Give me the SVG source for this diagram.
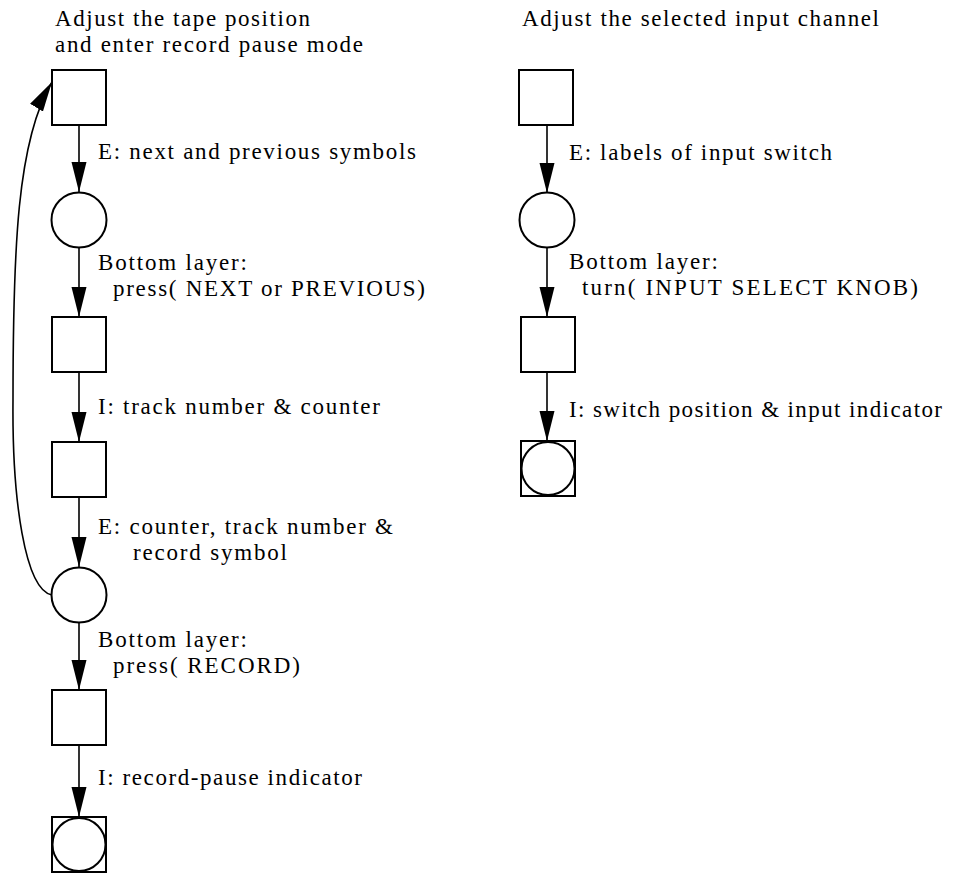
<svg xmlns="http://www.w3.org/2000/svg" width="957" height="874" viewBox="0 0 957 874">
<style>
text{font-family:"Liberation Serif","Times New Roman",serif;font-size:23px;fill:#000}
.n{fill:#fff;stroke:#000;stroke-width:2}
.c{fill:none;stroke:#000;stroke-width:1.6}
</style>
<defs>
<marker id="ah" markerUnits="userSpaceOnUse" markerWidth="30" markerHeight="16" refX="30" refY="8" orient="auto" viewBox="0 0 30 16">
<path d="M0,0.5 L30,8 L0,15.5 z" fill="#000"/>
</marker>
</defs>
<rect width="957" height="874" fill="#fff"/>
<g id="titles">
<text x="55" y="26" textLength="255" lengthAdjust="spacing">Adjust the tape position</text>
<text x="55" y="52" textLength="308" lengthAdjust="spacing">and enter record pause mode</text>
<text x="522" y="26" textLength="357" lengthAdjust="spacing">Adjust the selected input channel</text>
</g>
<g id="connectors">
<line class="c" x1="79" y1="125" x2="79" y2="192" marker-end="url(#ah)"/>
<line class="c" x1="79" y1="248" x2="79" y2="317" marker-end="url(#ah)"/>
<line class="c" x1="79" y1="372" x2="79" y2="442" marker-end="url(#ah)"/>
<line class="c" x1="79" y1="497" x2="79" y2="567" marker-end="url(#ah)"/>
<line class="c" x1="79" y1="623" x2="79" y2="690" marker-end="url(#ah)"/>
<line class="c" x1="79" y1="745" x2="79" y2="817" marker-end="url(#ah)"/>
<path class="c" d="M52,595 C25,590 12,500 13,400 C13,250 17,140 52,82" marker-end="url(#ah)"/>
<line class="c" x1="547" y1="125" x2="547" y2="193" marker-end="url(#ah)"/>
<line class="c" x1="547" y1="248" x2="547" y2="317" marker-end="url(#ah)"/>
<line class="c" x1="547" y1="372" x2="547" y2="441" marker-end="url(#ah)"/>
</g>
<g id="labels">
<text x="98" y="159" textLength="318" lengthAdjust="spacing">E: next and previous symbols</text>
<text x="98" y="270" textLength="149" lengthAdjust="spacing">Bottom layer:</text>
<text x="113" y="296" textLength="312" lengthAdjust="spacing">press( NEXT or PREVIOUS)</text>
<text x="98" y="414" textLength="282" lengthAdjust="spacing">I: track number &amp; counter</text>
<text x="98" y="534" textLength="295" lengthAdjust="spacing">E: counter, track number &amp;</text>
<text x="133" y="560" textLength="154" lengthAdjust="spacing">record symbol</text>
<text x="98" y="647" textLength="149" lengthAdjust="spacing">Bottom layer:</text>
<text x="113" y="673" textLength="187" lengthAdjust="spacing">press( RECORD)</text>
<text x="98" y="785" textLength="264" lengthAdjust="spacing">I: record-pause indicator</text>
<text x="569" y="160" textLength="263" lengthAdjust="spacing">E: labels of input switch</text>
<text x="569" y="269" textLength="149" lengthAdjust="spacing">Bottom layer:</text>
<text x="582" y="295" textLength="336" lengthAdjust="spacing">turn( INPUT SELECT KNOB)</text>
<text x="569" y="417" textLength="373" lengthAdjust="spacing">I: switch position &amp; input indicator</text>
</g>
<g id="L1"><rect class="n" x="52" y="70" width="54" height="55"/></g>
<g id="L2"><circle class="n" cx="79" cy="220" r="27.5"/></g>
<g id="L3"><rect class="n" x="52" y="317" width="54" height="55"/></g>
<g id="L4"><rect class="n" x="52" y="442" width="54" height="55"/></g>
<g id="L5"><circle class="n" cx="79" cy="595" r="27.5"/></g>
<g id="L6"><rect class="n" x="52" y="690" width="54" height="55"/></g>
<g id="L7"><rect class="n" x="52" y="817" width="54" height="55"/><circle class="n" cx="79" cy="844.5" r="26.5"/></g>
<g id="R1"><rect class="n" x="519" y="70" width="54" height="55"/></g>
<g id="R2"><circle class="n" cx="547" cy="220" r="27.5"/></g>
<g id="R3"><rect class="n" x="521" y="317" width="54" height="55"/></g>
<g id="R4"><rect class="n" x="521" y="441" width="54" height="55"/><circle class="n" cx="548" cy="468.5" r="26.5"/></g>
</svg>
